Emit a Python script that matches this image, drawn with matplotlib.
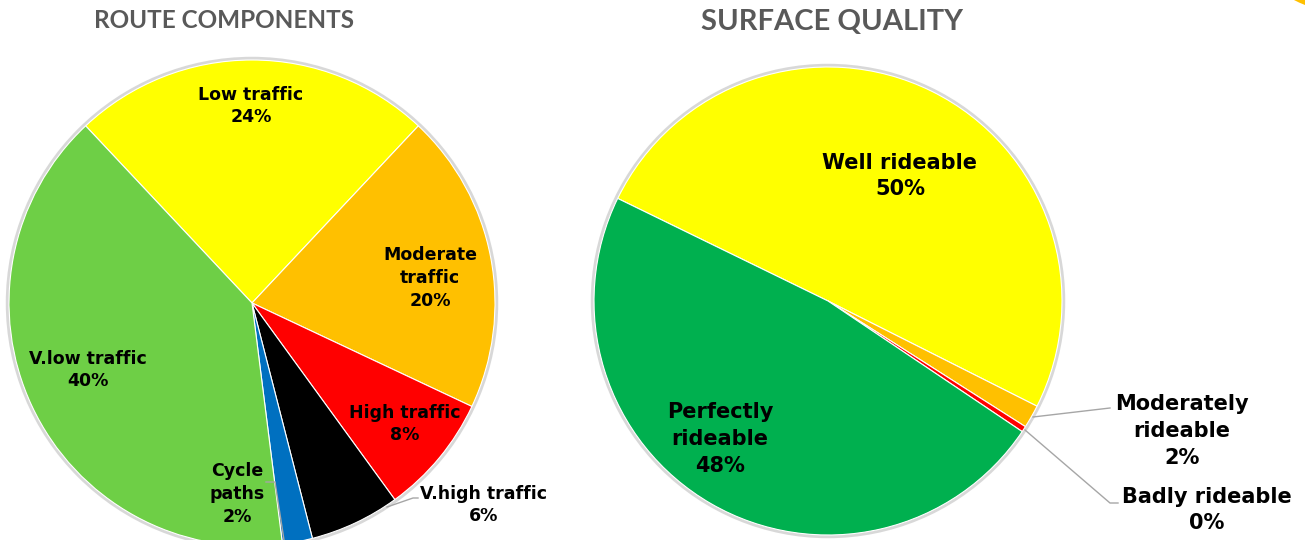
import matplotlib.pyplot as plt
from matplotlib.patches import Polygon, Circle

# ---- data ----
route_labels = ['Low traffic', 'Moderate\ntraffic', 'High traffic', 'V.high traffic', 'Cycle\npaths', 'V.low traffic']
route_values = [24, 20, 8, 6, 2, 40]
route_colors = ['#FFFF00', '#FFC000', '#FF0000', '#000000', '#0070C0', '#6ECF46']

surface_labels = ['Well rideable', 'Moderately\nrideable', 'Badly rideable', 'Perfectly\nrideable']
surface_values = [50.2, 1.6, 0.4, 47.8]
surface_colors = ['#FFFF00', '#FFC000', '#FF0000', '#00B04F']

W, H = 1305, 540
fig = plt.figure(figsize=(W / 100, H / 100), dpi=100)
ax = fig.add_axes([0, 0, 1, 1])

def py(y):
    # pixel row (from top) -> data y (from bottom)
    return H - y

wedge_kw = dict(edgecolor='white', linewidth=0.8)

# soft shadow behind the pies
for cx, cy, r in [(252, py(303), 243), (828, py(301), 234)]:
    ax.add_patch(Circle((cx, cy), r + 1.5, facecolor='none', edgecolor='#BFBFBF', lw=2.5, alpha=0.6))

# left pie
ax.pie(route_values, colors=route_colors, startangle=133.2, counterclock=False,
       center=(252, py(303)), radius=243, wedgeprops=wedge_kw, frame=True)
# right pie
ax.pie(surface_values, colors=surface_colors, startangle=154, counterclock=False,
       center=(828, py(301)), radius=234, wedgeprops=wedge_kw, frame=True)

ax.set_xlim(0, W)
ax.set_ylim(0, H)
ax.set_aspect('equal')
ax.axis('off')

def pct(v, total):
    return f"{round(v / total * 100):.0f}%"

lab_font = dict(family='DejaVu Sans', fontweight='bold', color='black', ha='center', va='center')

# left labels (pixel positions of text centres)
rt = sum(route_values)
left_pos = [(251, 106), (430, 278), (405, 424), (484, 505), (237, 494), (88, 370)]
for name, v, (x, y) in zip(route_labels, route_values, left_pos):
    ax.text(x, py(y), f"{name}\n{pct(v, rt)}", fontsize=12.5, linespacing=1.33, **lab_font)

# right labels
st = sum(surface_values)
right_pos = [(900, 176), (1182, 431), (1207, 510), (720, 439)]
for name, v, (x, y) in zip(surface_labels, surface_values, right_pos):
    ax.text(x, py(y), f"{name}\n{pct(v, st)}", fontsize=15, linespacing=1.42, **lab_font)

# leader lines
lc = '#A6A6A6'
ax.plot([387, 413, 418], [py(507), py(498), py(498)], color=lc, lw=1)
ax.plot([266, 275, 284], [py(482), py(482), py(540)], color=lc, lw=1)
ax.plot([1033, 1110], [py(417), py(408)], color=lc, lw=1)
ax.plot([1025, 1110, 1118], [py(430), py(503), py(503)], color=lc, lw=1)

# titles
ax.text(224, py(20), 'ROUTE COMPONENTS', family='Lato', fontweight='bold', fontsize=17.5,
        color='#595959', ha='center', va='center')
ax.text(832, py(22), 'SURFACE QUALITY', family='Lato', fontweight='bold', fontsize=21,
        color='#595959', ha='center', va='center')

# small decorative corner shape
ax.add_patch(Polygon([(1294, py(0)), (1305, py(0)), (1305, py(5)), (1299, py(2.5))],
                     closed=True, facecolor='#FFC000', edgecolor='none'))

fig.savefig('out.png', dpi=100)
